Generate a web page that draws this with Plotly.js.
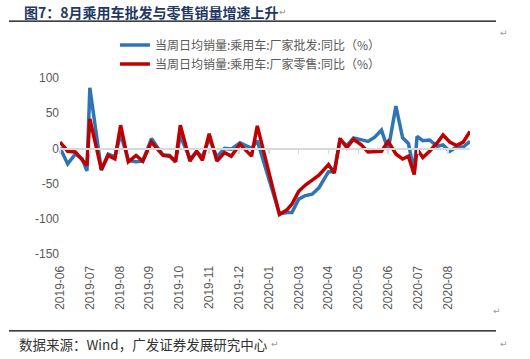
<!DOCTYPE html>
<html>
<head>
<meta charset="utf-8">
<script src="https://cdn.plot.ly/plotly-3.0.1.min.js"></script>
<style>html,body{margin:0;padding:0;background:#fff;}#chart{width:530px;height:359px;}</style>
</head>
<body>
<div id="chart"></div>
<script>
const dates = [
  '2019-06-28','2019-07-06','2019-07-14','2019-07-21','2019-07-26','2019-07-29',
  '2019-08-10','2019-08-17','2019-08-24','2019-08-30',
  '2019-09-07','2019-09-15','2019-09-22',
  '2019-10-01','2019-10-08','2019-10-13','2019-10-20','2019-10-26','2019-10-31',
  '2019-11-10','2019-11-17','2019-11-23','2019-11-30',
  '2019-12-08','2019-12-16','2019-12-23',
  '2020-01-01','2020-01-13','2020-01-19',
  '2020-02-11','2020-02-19','2020-02-24',
  '2020-03-02','2020-03-09','2020-03-16','2020-03-23',
  '2020-04-02','2020-04-08','2020-04-14','2020-04-21','2020-04-28',
  '2020-05-06','2020-05-13','2020-05-20','2020-05-27',
  '2020-06-03','2020-06-11','2020-06-18','2020-06-24','2020-06-30',
  '2020-07-03','2020-07-09','2020-07-16','2020-07-24','2020-07-30',
  '2020-08-06','2020-08-13','2020-08-20','2020-08-27'
];
// 当周日均销量:乘用车:厂家批发:同比(%)
const wholesale = [
  1,-22,-8,-15,-32,86,
  -31,-8,-12,20,
  -17,-19,-18,
  14,0,-9,-10,-19,18,
  -15,-5,-12,14,
  -12,0,-1,
  8,0,11,
  -93,-91,-91,
  -72,-67,-65,-56,
  -33,-33,12,4,15,
  13,10,16,26,
  -2,60,15,7,-33,
  17,11,12,3,5,
  -4,2,2,10
];
// 当周日均销量:乘用车:厂家零售:同比(%)
const retail = [
  9,-4,-5,-16,-24,42,
  -30,-10,-15,33,
  -19,-10,-18,
  9,-2,-10,-11,-19,33,
  -18,-4,-17,21,
  -18,-6,-11,
  6,-11,32,
  -94,-87,-79,
  -61,-52,-45,-38,
  -23,-35,14,1,13,
  5,-5,-4,-4,
  10,-8,-15,-11,-37,
  -1,-13,-4,8,19,
  9,4,9,24
];
const seriesNames = ['当周日均销量:乘用车:厂家批发:同比（%）','当周日均销量:乘用车:厂家零售:同比（%）'];
const tickDates = ['2019-06-28','2019-07-29','2019-08-29','2019-09-29','2019-10-30','2019-11-30','2019-12-31',
                   '2020-01-31','2020-03-02','2020-04-02','2020-05-03','2020-06-03','2020-07-04','2020-08-04'];
const tickLabels = ['2019-06','2019-07','2019-08','2019-09','2019-10','2019-11','2019-12',
                    '2020-01','2020-03','2020-04','2020-05','2020-06','2020-07','2020-08'];
const yTicks = [-150,-100,-50,0,50,100];

const xRange = [dates[0], dates[dates.length-1]];
const tickFont = {family:'Liberation Sans, Arial, sans-serif', size:12, color:'#595959'};

const traces = [
  {x:dates, y:wholesale, name:seriesNames[0], type:'scatter', mode:'lines',
   line:{color:'#2E75B6', width:3.5}, xaxis:'x', yaxis:'y'},
  {x:dates, y:retail, name:seriesNames[1], type:'scatter', mode:'lines',
   line:{color:'#C00000', width:3.5}, xaxis:'x', yaxis:'y'},
  {x:dates, y:retail, type:'scatter', mode:'lines', opacity:0, showlegend:false,
   hoverinfo:'skip', line:{width:0}, xaxis:'x2', yaxis:'y'}
];

const layout = {
  width:530, height:359, autosize:false,
  margin:{l:60, r:60, t:78, b:104.5},
  paper_bgcolor:'#fff', plot_bgcolor:'#fff',
  showlegend:true,
  legend:{x:0.134, xanchor:'left', y:1.27, yanchor:'top', orientation:'v',
          font:{family:'Noto Sans CJK SC, sans-serif', size:12, color:'#595959'},
          bgcolor:'rgba(0,0,0,0)', borderwidth:0, tracegroupgap:0},
  xaxis:{type:'date', range:xRange, tickmode:'array', tickvals:tickDates, ticktext:tickLabels,
         tickangle:-90, showgrid:false, showline:false, zeroline:false,
         ticks:'outside', ticklen:6, tickcolor:'rgba(0,0,0,0)', tickfont:tickFont},
  xaxis2:{type:'date', range:xRange, overlaying:'x', anchor:'free', position:0.6, side:'bottom',
          tickmode:'array', tickvals:tickDates, showticklabels:false,
          showgrid:false, zeroline:false, showline:true, linecolor:'#d9d9d9', linewidth:1.5,
          ticks:'outside', ticklen:4, tickcolor:'#d9d9d9', tickwidth:1.5},
  yaxis:{range:[-150,100], tickmode:'array', tickvals:yTicks, ticktext:yTicks.map(String),
         showgrid:false, zeroline:false, showline:false, ticks:'', tickfont:tickFont},
  shapes:[
    {type:'line', xref:'paper', yref:'paper', x0:-0.1244, x1:1.0634, y0:1.323, y1:1.323,
     line:{color:'#000', width:1.3}},
    {type:'line', xref:'paper', yref:'paper', x0:-0.1244, x1:1.0634, y0:-0.437, y1:-0.437,
     line:{color:'#000', width:1.3}}
  ],
  annotations:[
    {xref:'paper', yref:'paper', x:-0.0927, y:1.374, xanchor:'left', yanchor:'middle', showarrow:false,
     text:'<b>图7：8月乘用车批发与零售销量增速上升</b>',
     font:{family:'Noto Sans CJK SC, sans-serif', size:14, color:'#1F3864'}},
    {xref:'paper', yref:'paper', x:0.53, y:1.374, xanchor:'left', yanchor:'middle', showarrow:false,
     text:'↵', font:{family:'DejaVu Sans', size:9, color:'#9a9a9a'}},
    {xref:'paper', yref:'paper', x:1.068, y:1.255, xanchor:'left', yanchor:'middle', showarrow:false,
     text:'↵', font:{family:'DejaVu Sans', size:9, color:'#9a9a9a'}},
    {xref:'paper', yref:'paper', x:1.052, y:-0.325, xanchor:'left', yanchor:'middle', showarrow:false,
     text:'↵', font:{family:'DejaVu Sans', size:9, color:'#9a9a9a'}},
    {xref:'paper', yref:'paper', x:-0.105, y:-0.509, xanchor:'left', yanchor:'middle', showarrow:false,
     text:'数据来源：Wind，广发证券发展研究中心',
     font:{family:'Noto Sans CJK SC, sans-serif', size:13.5, color:'#333'}},
    {xref:'paper', yref:'paper', x:0.51, y:-0.509, xanchor:'left', yanchor:'middle', showarrow:false,
     text:'↵', font:{family:'DejaVu Sans', size:9, color:'#9a9a9a'}},
    {xref:'paper', yref:'paper', x:1.068, y:-0.509, xanchor:'left', yanchor:'middle', showarrow:false,
     text:'↵', font:{family:'DejaVu Sans', size:9, color:'#9a9a9a'}}
  ]
};

Plotly.newPlot('chart', traces, layout, {displayModeBar:false, staticPlot:true});
</script>
</body>
</html>
